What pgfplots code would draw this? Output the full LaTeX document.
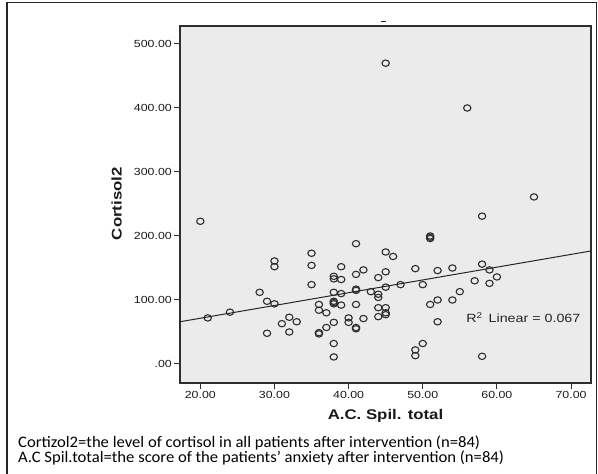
\documentclass[border=0pt]{standalone}
\usepackage{pgfplots}
\pgfplotsset{compat=1.18}
\usepackage{fontspec}
\setmainfont{Liberation Sans}[FakeStretch=1.2]
\newfontfamily\capfont{Carlito}[FakeStretch=1.04]
\definecolor{plotbg}{HTML}{EBEBEB}
\definecolor{ink}{HTML}{2E2E2E}

\begin{document}
\begin{tikzpicture}[x=1pt,y=1pt]
\useasboundingbox (0,0) rectangle (598,474);
\begin{axis}[
    at={(180pt,91pt)}, anchor=south west,
    scale only axis, width=411pt, height=357pt,
    xmin=17.26, xmax=72.69, ymin=-29.7, ymax=528.1,
    xtick={20,30,40,50,60,70},
    xticklabels={20.00,30.00,40.00,50.00,60.00,70.00},
    ytick={0,100,200,300,400,500},
    yticklabels={.00,100.00,200.00,300.00,400.00,500.00},
    tick pos=left, tick align=outside, major tick length=6.5pt,
    tick style={ink, line width=1pt},
    ticklabel style={font=\fontsize{10.3}{12}\selectfont, text=black!90},
    xticklabel style={inner sep=2pt},
    yticklabel style={inner sep=1.5pt},
    axis line style={ink, line width=1.2pt},
    axis background/.style={fill=plotbg},
    clip=true]
  % fit line
  \addplot[black!85, line width=1pt, mark=none]
      coordinates {(17.26,66) (72.69,176.6)};
  % patients
  \addplot[only marks, mark=o, mark size=3.2pt,
           mark options={ink, line width=1.1pt, xscale=1.15}]
      coordinates {
        (20,223) (21,72) (24,81) (28,112) (29,98) (29,48)
        (30,161) (30,152) (30,94) (31,63) (32,73) (32,50) (33,66)
        (35,173) (35,154) (35,124) (36,93) (36,84) (36,49) (36,47)
        (37,80) (37,57)
        (38,137) (38,133) (38,112) (38,98) (38,96) (38,94) (38,65) (38,32) (38,11)
        (39,152) (39,132) (39,110) (39,92) (40,72) (40,65)
        (41,188) (41,140) (41,117) (41,115) (41,93) (41,57) (41,55)
        (42,147) (42,71) (43,113)
        (44,135) (44,109) (44,104) (44,88) (44,74)
        (45,470) (45,175) (45,144) (45,120) (45,88) (45,80) (45,77)
        (46,168) (47,124)
        (49,149) (49,22) (49,13) (50,124) (50,32)
        (51,200) (51,198) (51,196) (51,93)
        (52,146) (52,100) (52,66) (54,150) (54,100) (55,113)
        (56,400) (57,130) (58,231) (58,156) (58,12)
        (59,147) (59,126) (60,136) (65,261)
      };
  \node[anchor=west, font=\fontsize{11.9}{13}\selectfont, text=black!85]
      at (axis cs:55.4,72.3) {R\textsuperscript{2}\, Linear = 0.067};
\end{axis}
% axis titles
\node[font=\fontsize{14}{16}\selectfont\bfseries, text=black!90]
    at (385.5,58) {A.C. Spil. total};
\node[rotate=90, font=\fontsize{14}{16}\selectfont\bfseries, text=black!90]
    at (116.7,270.3) {Cortisol2};
% empty title marker
\draw[black!85, line width=1pt] (380.5,452.3) -- (386,452.3);
% caption
\node[anchor=base west, inner sep=0pt, font=\capfont\fontsize{16}{18}\selectfont]
    at (18,26.3) {Cortizol2=the level of cortisol in all patients after intervention (n=84)};
\node[anchor=base west, inner sep=0pt, font=\capfont\fontsize{16}{18}\selectfont]
    at (18,11.3) {A.C Spil.total=the score of the patients’ anxiety after intervention (n=84)};
% frame
\draw[black!85, line width=1.3pt] (7,0) -- (7,471.5) -- (596.5,471.5) -- (596.5,0);
\end{tikzpicture}
\end{document}
